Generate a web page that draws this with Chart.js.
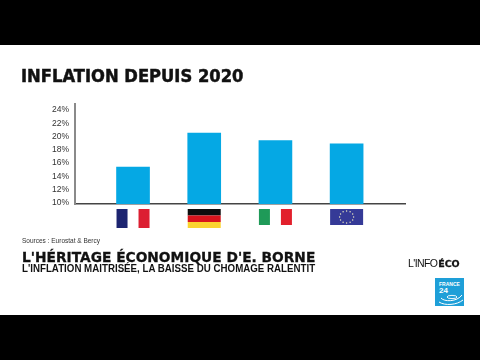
<!DOCTYPE html>
<html>
<head>
<meta charset="utf-8">
<script src="https://cdn.jsdelivr.net/npm/chart.js@4"></script>
<style>
html, body { margin: 0; padding: 0; background: #fff; }
#wrap { position: relative; width: 480px; height: 360px; overflow: hidden; }
#chart { position: absolute; left: 0; top: 0; }
.bar { position: absolute; left: 0; width: 480px; background: #000; }
.t { position: absolute; white-space: nowrap; color: #111; transform-origin: 0 0; }
#title { left: 21px; top: 66px; font: bold 17.5px "DejaVu Sans"; transform: scaleX(0.935); -webkit-text-stroke: 0.5px #111; }
#src { left: 22px; top: 237px; font: 6.5px "Liberation Sans"; color: #333; }
#head { left: 22px; top: 249px; font: bold 13.5px "DejaVu Sans"; transform: scaleX(1.02); -webkit-text-stroke: 0.3px #111; }
#sub { left: 22px; top: 263px; font: bold 10px "Liberation Sans"; transform: scaleX(0.973); }
#info { left: 408px; top: 257px; font: 10.5px "Liberation Sans"; letter-spacing: -0.6px; word-spacing: -1.5px; }
#info b { font-family: "DejaVu Sans"; font-size: 9.5px; letter-spacing: 0; -webkit-text-stroke: 0.3px #111; }
#logo { position: absolute; left: 435px; top: 278px; }
</style>
</head>
<body>
<div id="wrap">
  <canvas id="chart" width="480" height="360"></canvas>
  <div class="bar" style="top:0;height:45px"></div>
  <div class="bar" style="top:315px;height:45px"></div>
  <div class="t" id="title">INFLATION DEPUIS 2020</div>
  <div class="t" id="src">Sources : Eurostat &amp; Bercy</div>
  <div class="t" id="head">L'HÉRITAGE ÉCONOMIQUE D'E. BORNE</div>
  <div class="t" id="sub">L'INFLATION MAITRISÉE, LA BAISSE DU CHOMAGE RALENTIT</div>
  <div class="t" id="info">L'INFO <b>ÉCO</b></div>
  <svg id="logo" width="29" height="28" viewBox="0 0 29 28">
    <rect width="29" height="28" fill="#1e9fd8"/>
    <text x="4" y="8" font-family="Liberation Sans" font-weight="bold" font-size="5" fill="#fff">FRANCE</text>
    <text x="4" y="15" font-family="Liberation Sans" font-weight="bold" font-size="8" fill="#fff">24</text>
    <ellipse cx="17" cy="19" rx="5" ry="1.6" fill="none" stroke="#fff" stroke-width="0.9"/>
    <path d="M6 20 C9 24 22 24 27 17" fill="none" stroke="#fff" stroke-width="1"/>
    <path d="M4 24 C10 28 22 27 28 22" fill="none" stroke="#fff" stroke-width="1"/>
  </svg>
</div>
<script>
var categories = ["France", "Allemagne", "Italie", "Zone euro"];
var inflation = [15.4, 20.5, 19.4, 18.9];
var yTicks = [10, 12, 14, 16, 18, 20, 22, 24];

// flags sit under each bar, placed from the x scale
function drawFlag(ctx, name, cx, top) {
    var l = cx - 16.5, w = 33;
    if (name == "France") {
        ctx.fillStyle = "#1c2470"; ctx.fillRect(l, top, 11, 19);
        ctx.fillStyle = "#dc1f32"; ctx.fillRect(l + 22, top, 11, 19);
    } else if (name == "Allemagne") {
        ctx.fillStyle = "#0d0d0d"; ctx.fillRect(l, top, w, 6.5);
        ctx.fillStyle = "#d8141c"; ctx.fillRect(l, top + 6.5, w, 6.5);
        ctx.fillStyle = "#fbd430"; ctx.fillRect(l, top + 13, w, 6);
    } else if (name == "Italie") {
        ctx.fillStyle = "#1f9a58"; ctx.fillRect(l, top, 11, 16);
        ctx.fillStyle = "#e2202c"; ctx.fillRect(l + 22, top, 11, 16);
    } else {
        ctx.fillStyle = "#353a97"; ctx.fillRect(l, top, w, 16);
        ctx.fillStyle = "#e8e6c0";
        for (var i = 0; i < 12; i++) {
            var a = i * Math.PI / 6;
            ctx.beginPath();
            ctx.arc(cx + Math.cos(a) * 7, top + 8 + Math.sin(a) * 6, 0.7, 0, 7);
            ctx.fill();
        }
    }
}

var flags = {
    id: "flags",
    afterDraw: function (chart) {
        var ctx = chart.ctx, x = chart.scales.x;
        categories.forEach(function (c, i) {
            drawFlag(ctx, c, x.getPixelForValue(i), 209);
        });
    }
};

var ctx = document.getElementById('chart').getContext('2d');
var chart = new Chart(ctx, {
    type: 'bar',
    data: {
        datasets: [{
            label: "Inflation depuis 2020",
            data: inflation.map(function (v, i) { return { x: i, y: v }; }),
            backgroundColor: '#05a8e4',
            barThickness: 33
        }]
    },
    options: {
        responsive: false,
        animation: false,
        layout: { padding: { left: 0, right: 75, top: 104, bottom: 156 } },
        plugins: { legend: { display: false }, tooltip: { enabled: false } },
        scales: {
            x: {
                type: 'linear',
                offset: false,
                min: -0.815,
                max: 3.82,
                grid: { display: false, drawTicks: false },
                border: { color: '#444', width: 1.5 },
                ticks: { display: false }
            },
            y: {
                min: 9.85,
                max: 24.89,
                afterFit: function (s) { s.width = 75; },
                afterBuildTicks: function (s) {
                    s.ticks = yTicks.map(function (v) { return { value: v }; });
                },
                grid: { display: false, drawTicks: false },
                border: { color: '#8a8a8a', width: 2 },
                ticks: {
                    padding: 6,
                    autoSkip: false,
                    color: '#333',
                    font: { family: 'Liberation Sans', size: 8.5 },
                    callback: function (v) { return v + '%'; }
                }
            }
        }
    },
    plugins: [flags]
});
</script>
</body>
</html>
